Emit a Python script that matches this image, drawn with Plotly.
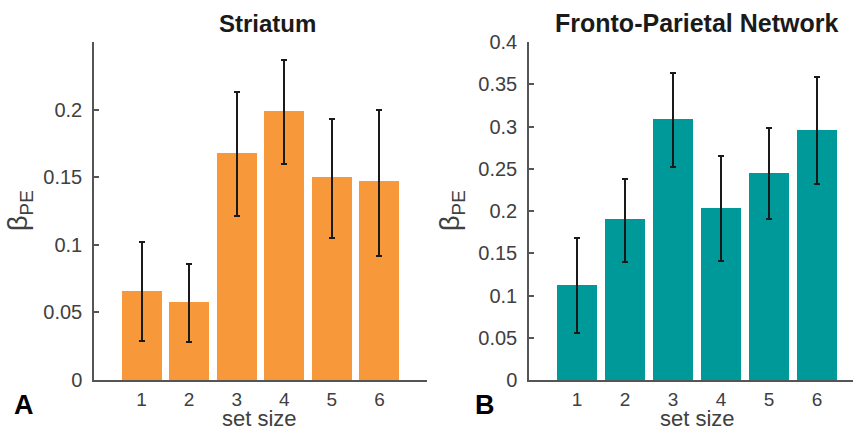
import plotly.graph_objects as go

set_sizes = [1, 2, 3, 4, 5, 6]
tick_labels = ["1", "2", "3", "4", "5", "6"]

# Panel A: Striatum
striatum_beta = [0.066, 0.058, 0.168, 0.199, 0.150, 0.147]
striatum_err_plus = [0.036, 0.028, 0.045, 0.038, 0.043, 0.053]
striatum_err_minus = [0.037, 0.030, 0.047, 0.039, 0.045, 0.055]

# Panel B: Fronto-Parietal Network
fpn_beta = [0.113, 0.191, 0.309, 0.204, 0.245, 0.296]
fpn_err_plus = [0.055, 0.047, 0.054, 0.061, 0.053, 0.062]
fpn_err_minus = [0.057, 0.051, 0.057, 0.063, 0.055, 0.064]

left_ticks = [0, 0.05, 0.1, 0.15, 0.2]
left_ticktext = ["0", "0.05", "0.1", "0.15", "0.2"]
right_ticks = [0, 0.05, 0.1, 0.15, 0.2, 0.25, 0.3, 0.35, 0.4]
right_ticktext = ["0", "0.05", "0.1", "0.15", "0.2", "0.25", "0.3", "0.35", "0.4"]

ORANGE = "#F7993A"
TEAL = "#009999"
AXC = "#555555"
TXC = "#404040"
FONT = "Liberation Sans"

W, H = 853, 431

fig = go.Figure()
fig.add_trace(go.Bar(
    x=set_sizes, y=striatum_beta, width=0.84,
    marker=dict(color=ORANGE, line=dict(width=0)),
    error_y=dict(type="data", symmetric=False, array=striatum_err_plus,
                 arrayminus=striatum_err_minus, color="#1a1a1a", thickness=2, width=3),
    xaxis="x", yaxis="y", showlegend=False))
fig.add_trace(go.Bar(
    x=set_sizes, y=fpn_beta, width=0.84,
    marker=dict(color=TEAL, line=dict(width=0)),
    error_y=dict(type="data", symmetric=False, array=fpn_err_plus,
                 arrayminus=fpn_err_minus, color="#1a1a1a", thickness=2, width=3),
    xaxis="x2", yaxis="y2", showlegend=False))

ydom = [(H - 380) / H, (H - 42) / H]

common_x = dict(range=[0, 7], tickmode="array", tickvals=set_sizes, ticktext=tick_labels,
                showline=True, linecolor=AXC, linewidth=1.5, ticks="", showgrid=False,
                zeroline=False, automargin=False, ticklabelstandoff=1,
                tickfont=dict(family=FONT, size=19, color=TXC))
common_y = dict(showline=True, linecolor=AXC, linewidth=1.5, ticks="inside", ticklen=5,
                tickcolor=AXC, tickwidth=1.5, showgrid=False, zeroline=False, automargin=False,
                tickfont=dict(family=FONT, size=20, color=TXC), ticklabelstandoff=6,
                minor=dict(ticks="inside", ticklen=5, tickcolor=AXC, tickwidth=1.5,
                           tick0=0, dtick=0.05, showgrid=False))

fig.update_layout(
    width=W, height=H, margin=dict(l=0, r=0, t=0, b=0, autoexpand=False),
    paper_bgcolor="white", plot_bgcolor="white", bargap=0,
    xaxis=dict(domain=[94 / W, 427 / W], anchor="y", **common_x),
    yaxis=dict(domain=ydom, anchor="x", range=[0, 0.25], tickmode="array",
               tickvals=left_ticks, ticktext=left_ticktext, **common_y),
    xaxis2=dict(domain=[529 / W, 1.0], anchor="y2", **{**common_x, "range": [0, 6.75]}),
    yaxis2=dict(domain=ydom, anchor="x2", range=[0, 0.4], tickmode="array",
                tickvals=right_ticks, ticktext=right_ticktext, **common_y),
)

annos = [
    dict(text="<b>Striatum</b>", x=267 / W, y=(H - 23) / H, font=dict(size=24, color="#1a1a1a")),
    dict(text="<b>Fronto-Parietal Network</b>", x=696 / W, y=(H - 23) / H, font=dict(size=25, color="#1a1a1a")),
    dict(text="<b>A</b>", x=24 / W, y=(H - 405) / H, font=dict(size=27, color="black")),
    dict(text="<b>B</b>", x=485 / W, y=(H - 405) / H, font=dict(size=27, color="black")),
    dict(text="β<sub>PE</sub>", x=20 / W, y=(H - 211) / H, textangle=-90, font=dict(size=27, color=TXC)),
    dict(text="β<sub>PE</sub>", x=452 / W, y=(H - 211) / H, textangle=-90, font=dict(size=27, color=TXC)),
    dict(text="set size", x=259 / W, y=(H - 418) / H, font=dict(size=22, color=TXC)),
    dict(text="set size", x=697 / W, y=(H - 418) / H, font=dict(size=22, color=TXC)),
]
for a in annos:
    a.update(xref="paper", yref="paper", showarrow=False, xanchor="center", yanchor="middle")
    a["font"]["family"] = FONT
    fig.add_annotation(**a)

fig.write_html("out.html", config={"displayModeBar": False},
               post_script="document.body.style.margin='0';document.body.style.padding='0';")
